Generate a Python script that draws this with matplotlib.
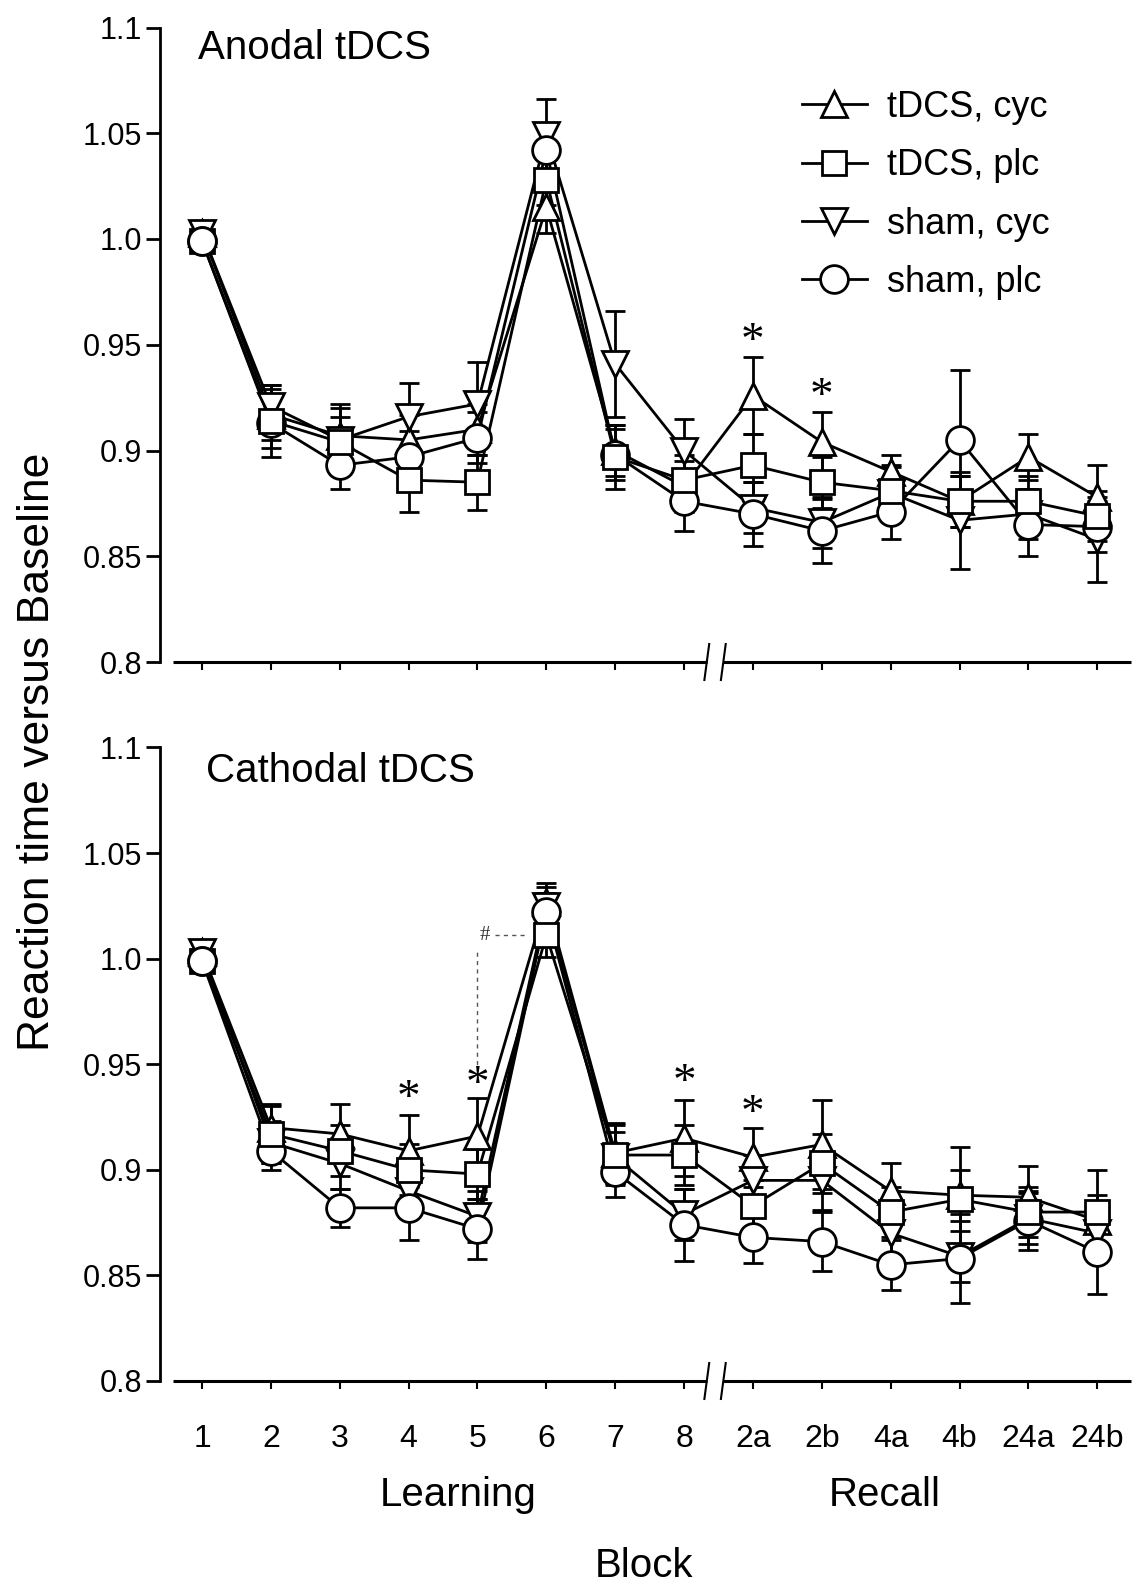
import numpy as np
import matplotlib
matplotlib.use('Agg')
import matplotlib.pyplot as plt
from matplotlib.lines import Line2D

plt.rcParams['font.family'] = ['Liberation Sans', 'DejaVu Sans']

# blocks (learning 1-8, then recall 2a..24b)
blocks = ['1', '2', '3', '4', '5', '6', '7', '8', '2a', '2b', '4a', '4b', '24a', '24b']
groups = ['tDCS, cyc', 'tDCS, plc', 'sham, cyc', 'sham, plc']

# Anodal tDCS - mean reaction time relative to baseline
ano_tdcs_cyc = [1.003, 0.917, 0.907, 0.905, 0.910, 1.015, 0.900, 0.883, 0.926, 0.904, 0.890, 0.876, 0.897, 0.878]
ano_tdcs_plc = [0.999, 0.914, 0.904, 0.886, 0.885, 1.028, 0.897, 0.886, 0.893, 0.885, 0.881, 0.876, 0.876, 0.869]
ano_sham_cyc = [1.003, 0.921, 0.905, 0.916, 0.922, 1.049, 0.941, 0.900, 0.873, 0.866, 0.880, 0.867, 0.870, 0.858]
ano_sham_plc = [0.999, 0.913, 0.893, 0.897, 0.906, 1.042, 0.898, 0.876, 0.870, 0.862, 0.871, 0.905, 0.865, 0.864]

ano_tdcs_cyc_se = [0.005, 0.012, 0.015, 0.012, 0.012, 0.012, 0.012, 0.012, 0.018, 0.014, 0.008, 0.012, 0.011, 0.015]
ano_tdcs_plc_se = [0.005, 0.017, 0.012, 0.015, 0.013, 0.012, 0.015, 0.012, 0.015, 0.012, 0.012, 0.012, 0.012, 0.012]
ano_sham_cyc_se = [0.005, 0.010, 0.015, 0.016, 0.020, 0.017, 0.025, 0.015, 0.012, 0.012, 0.012, 0.023, 0.012, 0.020]
ano_sham_plc_se = [0.004, 0.012, 0.011, 0.012, 0.012, 0.012, 0.012, 0.014, 0.015, 0.015, 0.013, 0.033, 0.015, 0.012]

# Cathodal tDCS
cat_tdcs_cyc = [1.003, 0.920, 0.917, 0.909, 0.916, 1.027, 0.908, 0.915, 0.906, 0.912, 0.890, 0.888, 0.887, 0.876]
cat_tdcs_plc = [0.999, 0.917, 0.909, 0.900, 0.898, 1.011, 0.907, 0.907, 0.883, 0.903, 0.880, 0.886, 0.880, 0.880]
cat_sham_cyc = [1.003, 0.913, 0.903, 0.890, 0.878, 1.025, 0.906, 0.879, 0.895, 0.895, 0.870, 0.859, 0.877, 0.870]
cat_sham_plc = [0.999, 0.909, 0.882, 0.882, 0.872, 1.022, 0.899, 0.874, 0.868, 0.866, 0.855, 0.858, 0.876, 0.861]

cat_tdcs_cyc_se = [0.005, 0.010, 0.014, 0.017, 0.018, 0.009, 0.014, 0.018, 0.014, 0.021, 0.013, 0.012, 0.015, 0.012]
cat_tdcs_plc_se = [0.005, 0.014, 0.012, 0.012, 0.012, 0.010, 0.014, 0.014, 0.012, 0.014, 0.012, 0.025, 0.012, 0.020]
cat_sham_cyc_se = [0.005, 0.010, 0.012, 0.012, 0.012, 0.009, 0.012, 0.012, 0.012, 0.014, 0.012, 0.012, 0.012, 0.012]
cat_sham_plc_se = [0.004, 0.009, 0.009, 0.015, 0.014, 0.009, 0.012, 0.017, 0.012, 0.014, 0.012, 0.021, 0.014, 0.020]

# significance marks (block label, y)
ano_stars = [('2a', 0.951), ('2b', 0.925)]
cat_stars = [('4', 0.933), ('5', 0.940), ('8', 0.941), ('2a', 0.926)]

markers = ['^', 's', 'v', 'o']
msizes = [19, 17.5, 19, 20]
mz = [4, 7, 5, 6]   # squares end up on top, then circles

W, H = 1136, 1595
fig = plt.figure(figsize=(W / 100, H / 100), dpi=100)
ax1 = fig.add_axes([160 / W, 1 - 662 / H, (1131 - 160) / W, (662 - 27.5) / H])
ax2 = fig.add_axes([160 / W, 1 - 1381 / H, (1131 - 160) / W, (1381 - 747.5) / H])

x = np.arange(len(blocks))
brk = 7.45  # axis break between learning and recall


def draw_panel(ax, series, errs, stars, show_labels):
    for i, (y, e) in enumerate(zip(series, errs)):
        ax.errorbar(x, y, yerr=e, fmt='none', ecolor='black', elinewidth=2,
                    capsize=7, capthick=2, zorder=2)
        ax.plot(x, y, '-', color='black', lw=2, zorder=3)
    for i, y in enumerate(series):
        ax.plot(x, y, linestyle='none', marker=markers[i], ms=msizes[i],
                mfc='white', mec='black', mew=2, zorder=mz[i])
    # baseline block: circle sits over the square
    ax.plot(x[:1], series[3][:1], linestyle='none', marker='o', ms=msizes[3],
            mfc='white', mec='black', mew=2, zorder=8)
    for lab, yv in stars:
        ax.text(blocks.index(lab), yv, '*', ha='center', va='center',
                fontsize=34, family='Liberation Serif', zorder=10)

    ax.set_xlim(-0.61, 13.49)
    ax.set_ylim(0.8, 1.1)
    for s in ['top', 'right', 'bottom']:
        ax.spines[s].set_visible(False)
    ax.spines['left'].set_linewidth(2)
    ax.set_yticks([0.8, 0.85, 0.9, 0.95, 1.0, 1.05, 1.1])
    ax.set_yticklabels(['0.8', '0.85', '0.9', '0.95', '1.0', '1.05', '1.1'])
    ax.tick_params(axis='y', direction='out', length=10, width=2,
                   labelsize=22, pad=3)
    ax.set_xticks(x)
    if show_labels:
        ax.set_xticklabels(blocks)
    else:
        ax.set_xticklabels([])
    ax.tick_params(axis='x', direction='out', length=6, width=1.5,
                   labelsize=23, pad=25)

    # broken x axis line
    tr = ax.get_xaxis_transform()
    ax.plot([-0.42, brk - 0.12], [0, 0], color='black', lw=2.2,
            transform=tr, clip_on=False, solid_capstyle='butt')
    ax.plot([brk + 0.12, 13.49], [0, 0], color='black', lw=2.2,
            transform=tr, clip_on=False, solid_capstyle='butt')
    for dx in (-0.12, 0.12):
        ax.plot([brk + dx - 0.035, brk + dx + 0.035], [0.7915, 0.8085],
                color='black', lw=1.5, clip_on=False)


draw_panel(ax1, [ano_tdcs_cyc, ano_tdcs_plc, ano_sham_cyc, ano_sham_plc],
           [ano_tdcs_cyc_se, ano_tdcs_plc_se, ano_sham_cyc_se, ano_sham_plc_se],
           ano_stars, False)
draw_panel(ax2, [cat_tdcs_cyc, cat_tdcs_plc, cat_sham_cyc, cat_sham_plc],
           [cat_tdcs_cyc_se, cat_tdcs_plc_se, cat_sham_cyc_se, cat_sham_plc_se],
           cat_stars, True)

# '#' comparison block 5 vs block 6 (tDCS, plc), cathodal
b5 = blocks.index('5')
ax2.plot([b5, b5], [0.946, 1.005], '--', color='#555555', lw=1, dashes=(3, 3), zorder=1)
ax2.plot([b5 + 0.25, b5 + 0.72], [cat_tdcs_plc[5], cat_tdcs_plc[5]], '--',
         color='#555555', lw=1, dashes=(3, 3), zorder=1)
ax2.text(b5 + 0.1, cat_tdcs_plc[5], '#', ha='center', va='center',
         fontsize=15, color='#333333', family='Liberation Serif')

# legend
handles = [Line2D([], [], color='black', lw=2, marker=m, ms=s, mfc='white',
                  mec='black', mew=2) for m, s in zip(markers, msizes)]
ax1.legend(handles, groups, loc='upper left', bbox_to_anchor=(0.661, 0.902),
           frameon=False, fontsize=26, handlelength=1.8, handletextpad=0.55,
           labelspacing=0.65, borderpad=0, borderaxespad=0)

fig.text(198 / W, 1 - 48 / H, 'Anodal tDCS', fontsize=29, va='center', ha='left')
fig.text(206 / W, 1 - 771 / H, 'Cathodal tDCS', fontsize=29, va='center', ha='left')
fig.text(38 / W, 1 - 752 / H, 'Reaction time versus Baseline', fontsize=32,
         rotation=90, va='center', ha='center')
fig.text(458 / W, 1 - 1495 / H, 'Learning', fontsize=29, va='center', ha='center')
fig.text(885 / W, 1 - 1495 / H, 'Recall', fontsize=29, va='center', ha='center')
fig.text(644 / W, 1 - 1566 / H, 'Block', fontsize=29, va='center', ha='center')

fig.savefig('out.png', dpi=100)
